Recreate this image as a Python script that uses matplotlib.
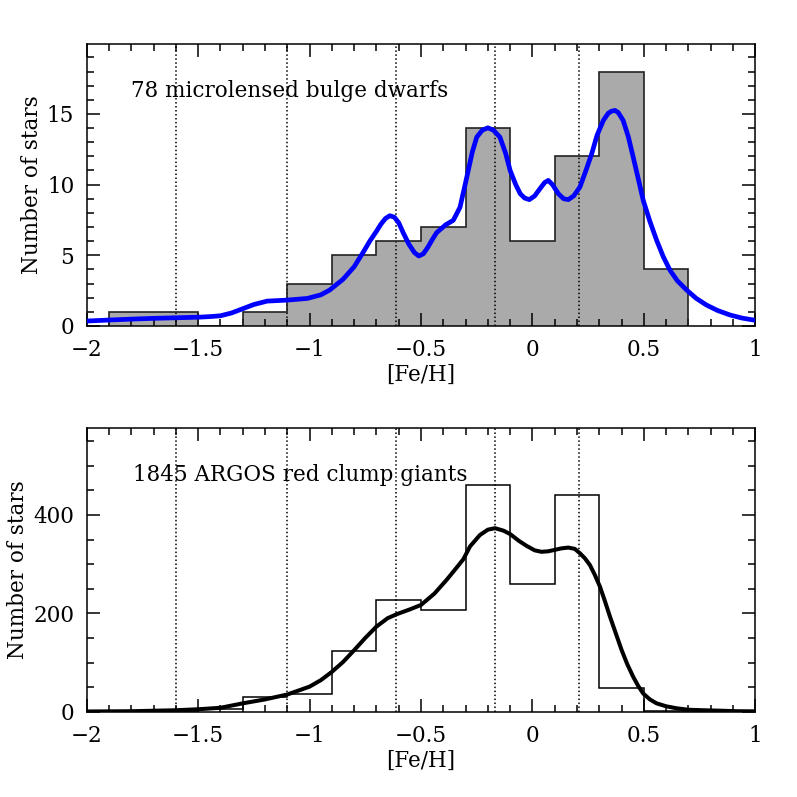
import matplotlib
matplotlib.use("Agg")
import matplotlib.pyplot as plt
from matplotlib.ticker import MultipleLocator, FuncFormatter

plt.rcParams["font.family"] = ["DejaVu Serif"]
plt.rcParams["font.size"] = 15.5

# --- DATA ---
BIN_EDGES = [-1.9, -1.7, -1.5, -1.3, -1.1, -0.9, -0.7, -0.5, -0.3, -0.1, 0.1, 0.3, 0.5, 0.7]
DWARF_COUNTS = [1, 1, 0, 1, 3, 5, 6, 7, 14, 6, 12, 18, 4]
GIANT_COUNTS = [1, 2, 6, 30, 35, 123, 227, 207, 461, 260, 441, 48, 2]

DWARF_CURVE_X = [-2.0, -1.9, -1.79, -1.7, -1.6, -1.5, -1.45, -1.4, -1.35, -1.3, -1.25, -1.19,
                 -1.1, -1.01, -0.95, -0.91, -0.85, -0.8, -0.76, -0.73, -0.7, -0.68, -0.66,
                 -0.64, -0.62, -0.6, -0.58, -0.555, -0.53, -0.51, -0.49, -0.47, -0.45, -0.43,
                 -0.39, -0.355, -0.325, -0.295, -0.27, -0.25, -0.225, -0.2, -0.175, -0.146,
                 -0.12, -0.1, -0.075, -0.055, -0.035, -0.014, 0.01, 0.034, 0.055, 0.071,
                 0.09, 0.116, 0.14, 0.161, 0.185, 0.213, 0.24, 0.266, 0.29, 0.318, 0.34,
                 0.355, 0.37, 0.385, 0.407, 0.43, 0.452, 0.475, 0.497, 0.527, 0.557, 0.587,
                 0.617, 0.65, 0.692, 0.735, 0.781, 0.83, 0.886, 0.94, 1.0]
DWARF_CURVE_Y = [0.35, 0.42, 0.49, 0.54, 0.58, 0.62, 0.66, 0.72, 0.92, 1.22, 1.52, 1.76,
                 1.83, 1.95, 2.2, 2.54, 3.3, 4.19, 5.2, 6.0, 6.7, 7.2, 7.6,
                 7.8, 7.7, 7.3, 6.6, 5.8, 5.2, 4.95, 5.1, 5.55, 6.1, 6.6,
                 7.15, 7.48, 8.4, 10.5, 12.3, 13.36, 13.85, 14.02, 13.85, 13.36,
                 12.2, 11.0, 10.0, 9.36, 9.05, 8.94, 9.2, 9.72, 10.15, 10.3,
                 10.0, 9.36, 9.0, 8.94, 9.2, 9.83, 11.0, 12.19, 13.5, 14.54, 15.05,
                 15.2, 15.25, 15.1, 14.54, 13.4, 11.95, 10.4, 8.89, 7.4, 6.07, 4.9,
                 3.95, 3.2, 2.54, 1.95, 1.48, 1.1, 0.78, 0.56, 0.40]

GIANT_CURVE_X = [-2.0, -1.8, -1.6, -1.5, -1.4, -1.3, -1.2, -1.1, -1.0, -0.95, -0.9, -0.85,
                 -0.8, -0.75, -0.7, -0.65, -0.61, -0.55, -0.5, -0.44, -0.385, -0.34, -0.31,
                 -0.28, -0.236, -0.2, -0.168, -0.13, -0.1, -0.06, -0.026, 0.01, 0.041, 0.07,
                 0.101, 0.13, 0.161, 0.19, 0.213, 0.235, 0.258, 0.28, 0.303, 0.325, 0.348,
                 0.375, 0.4, 0.425, 0.452, 0.475, 0.497, 0.527, 0.557, 0.6, 0.647, 0.7,
                 0.767, 0.85, 0.92, 1.0]
GIANT_CURVE_Y = [0.5, 1, 3, 5, 8, 17, 25, 35, 51, 64, 81, 101,
                 125, 150, 173, 190, 198, 208, 217, 240, 268, 293, 310,
                 336, 359, 370, 373, 368, 361, 347, 337, 328, 325, 326,
                 329, 332, 333.6, 331, 322, 312, 298, 278, 254, 225, 193,
                 158, 125.5, 97, 71, 52, 37, 25, 17, 11, 7, 4,
                 3, 2, 1, 0.8]

COMPONENT_FEH = [-1.6, -1.1, -0.61, -0.17, 0.21]


def tick_fmt(v, pos):
    return ("%g" % v).replace("-", "\u2212")


def style_axis(ax, ymax, ymajor, yminor):
    ax.set_xlim(-2, 1)
    ax.set_ylim(0, ymax)
    ax.xaxis.set_major_locator(MultipleLocator(0.5))
    ax.xaxis.set_minor_locator(MultipleLocator(0.1))
    ax.yaxis.set_major_locator(MultipleLocator(ymajor))
    ax.yaxis.set_minor_locator(MultipleLocator(yminor))
    ax.xaxis.set_major_formatter(FuncFormatter(tick_fmt))
    ax.tick_params(which="both", direction="in", top=True, right=True, width=1.1)
    ax.tick_params(which="major", length=9.5)
    ax.tick_params(which="minor", length=5)
    ax.tick_params(axis="x", which="major", pad=9.5)
    ax.tick_params(axis="y", which="major", pad=9)
    for sp in ax.spines.values():
        sp.set_linewidth(1.1)
    for xv in COMPONENT_FEH:
        ax.axvline(xv, color="black", linestyle=(0, (1, 1.6)), linewidth=1.1, zorder=1)
    ax.set_xlabel("[Fe/H]", labelpad=2)
    ax.set_ylabel("Number of stars", labelpad=3)


fig = plt.figure(figsize=(7.97, 7.97), dpi=100)

# --- top: microlensed dwarfs ---
ax1 = fig.add_axes([0.1088, 0.591, 0.8389, 0.3538])
ax1.stairs(DWARF_COUNTS, BIN_EDGES, fill=True, facecolor="#aaaaaa", edgecolor="none", zorder=0)
ax1.stairs(DWARF_COUNTS, BIN_EDGES, color="#222222", linewidth=1.2, zorder=2)
ax1.plot(DWARF_CURVE_X, DWARF_CURVE_Y, color="#0000ff", linewidth=3.4, zorder=3,
         solid_joinstyle="round", solid_capstyle="round")
style_axis(ax1, 19.95, 5, 1)
ax1.text(0.066, 0.833, "78 microlensed bulge dwarfs", transform=ax1.transAxes,
         ha="left", va="center")

# --- bottom: ARGOS giants ---
ax2 = fig.add_axes([0.1088, 0.107, 0.8389, 0.3556])
ax2.stairs(GIANT_COUNTS, BIN_EDGES, color="black", linewidth=1.1, zorder=2)
ax2.plot(GIANT_CURVE_X, GIANT_CURVE_Y, color="black", linewidth=2.9, zorder=3,
         solid_joinstyle="round", solid_capstyle="round")
style_axis(ax2, 576, 200, 50)
ax2.text(0.069, 0.835, "1845 ARGOS red clump giants", transform=ax2.transAxes,
         ha="left", va="center")

plt.savefig("out.png", dpi=100)
